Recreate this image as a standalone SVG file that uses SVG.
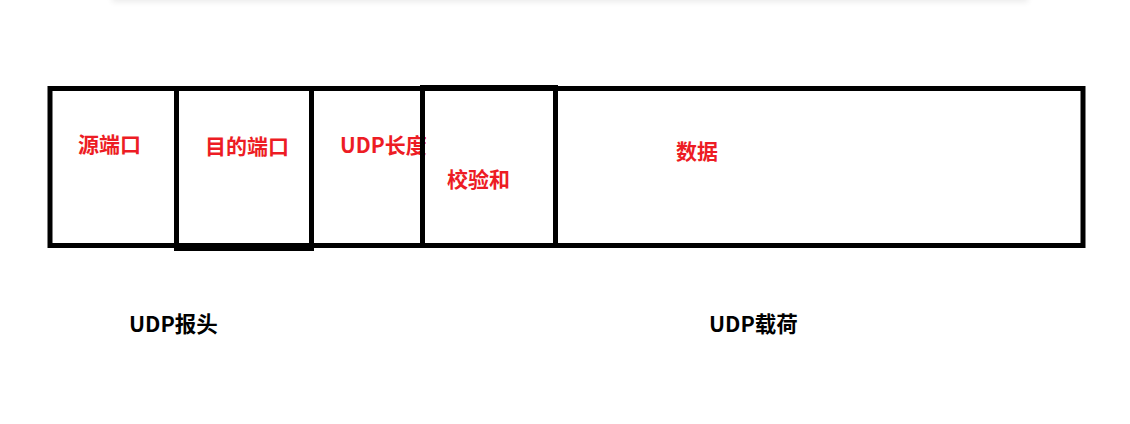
<svg xmlns="http://www.w3.org/2000/svg" width="1130" height="424" viewBox="0 0 1130 424">
<style>
.box{fill:none;stroke:#000;stroke-width:5}
.red{fill:#ed1c24;font-family:"Noto Sans CJK SC","Liberation Sans",sans-serif;font-weight:bold;font-size:21px}
.blk{fill:#000;font-family:"Noto Sans CJK SC","Liberation Sans",sans-serif;font-weight:bold;font-size:21.5px}
</style>
<defs>
<filter id="sh" x="-10%" y="-200%" width="120%" height="500%"><feGaussianBlur stdDeviation="3"/></filter>
</defs>
<rect width="1130" height="424" fill="#fff"/>
<rect x="112" y="-12" width="916" height="14" fill="#000" opacity="0.08" filter="url(#sh)"/>
<g id="outer"><rect class="box" x="50" y="88.5" width="1033" height="157"/></g>
<g id="src"><text class="red" x="78" y="151.5">源端口</text></g>
<g id="dst"><rect class="box" x="176.5" y="88.5" width="135" height="160"/><text class="red" x="205" y="153.5">目的端口</text></g>
<g id="len"><line class="box" x1="311.5" y1="88" x2="311.5" y2="246"/><text class="red" x="340" y="153" font-size="22">UDP长度</text></g>
<g id="chk"><rect class="box" x="422.5" y="87.5" width="133" height="158"/><text class="red" x="447" y="187">校验和</text></g>
<g id="data"><text class="red" x="676" y="159">数据</text></g>
<g id="hdr"><text class="blk" x="129" y="331.5">UDP报头</text></g>
<g id="payload"><text class="blk" x="709" y="331.5">UDP载荷</text></g>
<g id="connectors"></g>
</svg>
